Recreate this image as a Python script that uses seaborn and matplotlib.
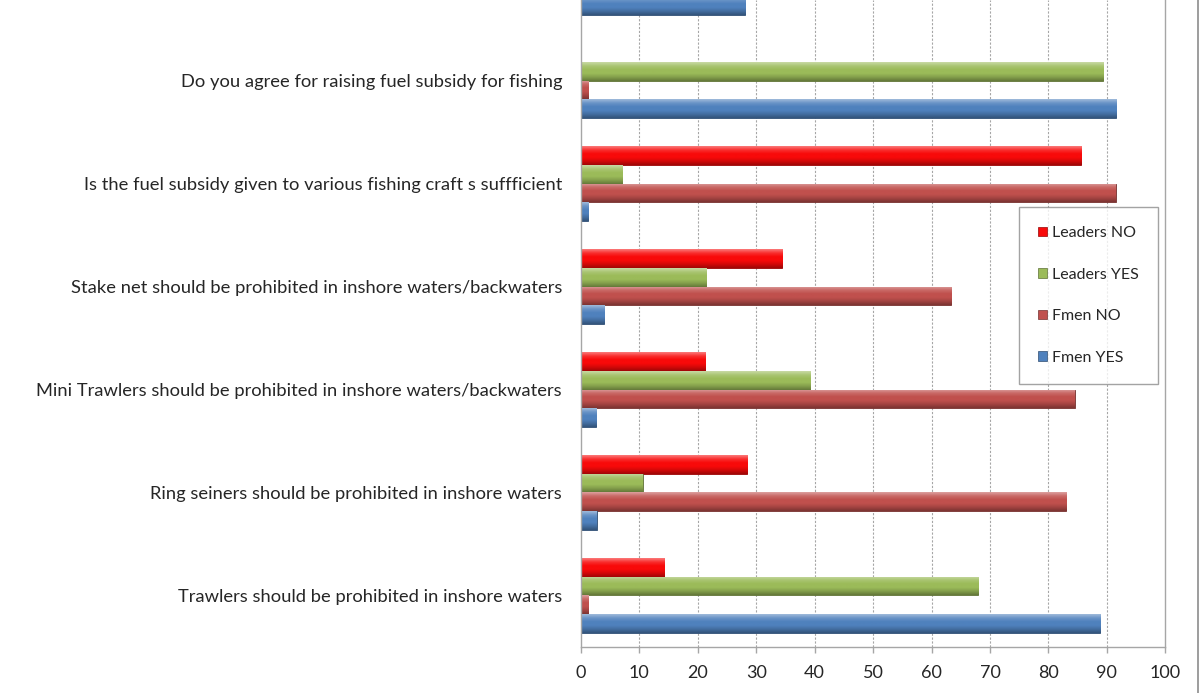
import numpy as np
import pandas as pd
import matplotlib
matplotlib.use("Agg")
import matplotlib.pyplot as plt
from matplotlib.lines import Line2D
from matplotlib.patches import Patch
from matplotlib.colors import to_rgb
import seaborn as sns

# Survey questions (top to bottom); the first one sits at the clipped top edge
questions = [
    "",
    "Do you agree for raising fuel subsidy for fishing",
    "Is the fuel subsidy given to various fishing craft s suffficient",
    "Stake net should be prohibited in inshore waters/backwaters",
    "Mini Trawlers should be prohibited in inshore waters/backwaters",
    "Ring seiners should be prohibited in inshore waters",
    "Trawlers should be prohibited in inshore waters",
]
groups = ["Leaders NO", "Leaders YES", "Fmen NO", "Fmen YES"]

# Percentages per respondent group, in question order
leaders_no = [np.nan, 0.0, 85.6, 34.4, 21.3, 28.5, 14.2]
leaders_yes = [np.nan, 89.4, 7.1, 21.4, 39.2, 10.6, 68.0]
fmen_no = [64.5, 1.3, 91.5, 63.4, 84.5, 83.0, 1.3]
fmen_yes = [28.1, 91.6, 1.3, 4.0, 2.6, 2.7, 88.8]

xticks = [0, 10, 20, 30, 40, 50, 60, 70, 80, 90, 100]

colors = {
    "Leaders NO": "#F80A0A",
    "Leaders YES": "#9BBB59",
    "Fmen NO": "#C0504D",
    "Fmen YES": "#4F81BD",
}

rows = []
for name, vals in zip(groups, [leaders_no, leaders_yes, fmen_no, fmen_yes]):
    for q, v in zip(questions, vals):
        rows.append({"question": q, "group": name, "value": v})
df = pd.DataFrame(rows)

sns.set_style("white")
plt.rcParams["font.family"] = ["Lato", "DejaVu Sans"]

fig = plt.figure(figsize=(12, 6.93), dpi=100)
ax = fig.add_axes([0.484, 0.0664, 0.4871, 0.9336])

sns.barplot(
    data=df, y="question", x="value", hue="group",
    order=questions, hue_order=groups, palette=colors,
    orient="h", width=0.73, saturation=1, errorbar=None,
    legend=False, ax=ax, linewidth=0,
)


def shade(c, f):
    r, g, b = to_rgb(c)
    if f >= 0:
        return (r + (1 - r) * f, g + (1 - g) * f, b + (1 - b) * f)
    return (r * (1 + f), g * (1 + f), b * (1 + f))


# Bevelled look: vertical gradient clipped to each bar
for p in list(ax.patches):
    w = p.get_width()
    if not np.isfinite(w) or w <= 0:
        continue
    base = p.get_facecolor()[:3]
    x0, y0 = p.get_x(), p.get_y()
    h = p.get_height()
    stops = np.array([shade(base, 0.45), shade(base, 0.15), base,
                      base, shade(base, -0.15), shade(base, -0.35)])
    t = np.linspace(0, 1, 40)
    pos = np.linspace(0, 1, len(stops))
    grad = np.stack([np.interp(t, pos, stops[:, k]) for k in range(3)], axis=1)
    img = ax.imshow(grad[:, None, :], extent=(x0, x0 + w, y0 + h, y0),
                    aspect="auto", origin="upper", zorder=p.get_zorder() + 0.1,
                    interpolation="bilinear")
    img.set_clip_path(p)
    p.set_edgecolor(shade(base, -0.4))
    p.set_linewidth(0.6)

# Gridlines and axes
ax.set_xticks(xticks)
ax.set_xticklabels([str(v) for v in xticks], fontsize=13)
for v in xticks[1:-1]:
    ax.axvline(v, color="#A6A6A6", lw=0.8, ls=(0, (2, 1.5)), zorder=0)
ax.set_axisbelow(True)

for side in ["left", "bottom", "right"]:
    ax.spines[side].set_visible(True)
    ax.spines[side].set_color("#A6A6A6")
    ax.spines[side].set_linewidth(1.0)
ax.spines["top"].set_visible(False)

ax.set_yticks(range(len(questions)))
ax.set_yticklabels(questions, fontsize=13.2)
ax.set_yticks(np.arange(0.5, len(questions), 1.0), minor=True)
ax.tick_params(axis="y", which="major", length=0, pad=13.5)
ax.tick_params(axis="y", which="minor", length=5, color="#A6A6A6", width=1)
ax.tick_params(axis="x", which="major", length=4, color="#A6A6A6", width=1,
               pad=9, direction="out")
ax.xaxis.set_ticks_position("bottom")
ax.set_xlabel("")
ax.set_ylabel("")

# Limits last, so tick setting cannot widen them
ax.set_xlim(0, 100)
ax.set_ylim(6.5, 0.218)

# Legend
handles = [Patch(facecolor=colors[g], edgecolor=shade(colors[g], -0.4),
                 linewidth=0.5) for g in groups]
leg = ax.legend(
    handles, groups, loc="upper left",
    bbox_to_anchor=(1019 / 1200, 1 - 207 / 693),
    bbox_transform=fig.transFigure,
    frameon=True, fancybox=False, fontsize=11.5,
    handlelength=0.55, handleheight=0.55, handletextpad=0.3,
    labelspacing=1.72, borderpad=1.2, borderaxespad=0,
)
leg.get_frame().set_edgecolor("#8C8C8C")
leg.get_frame().set_linewidth(1.0)

# Chart-area border on the right
fig.add_artist(Line2D([1198 / 1200, 1198 / 1200], [0, 1],
                      transform=fig.transFigure, color="#8C8C8C", lw=1.2))

fig.savefig("out.png", dpi=100, facecolor="white")
